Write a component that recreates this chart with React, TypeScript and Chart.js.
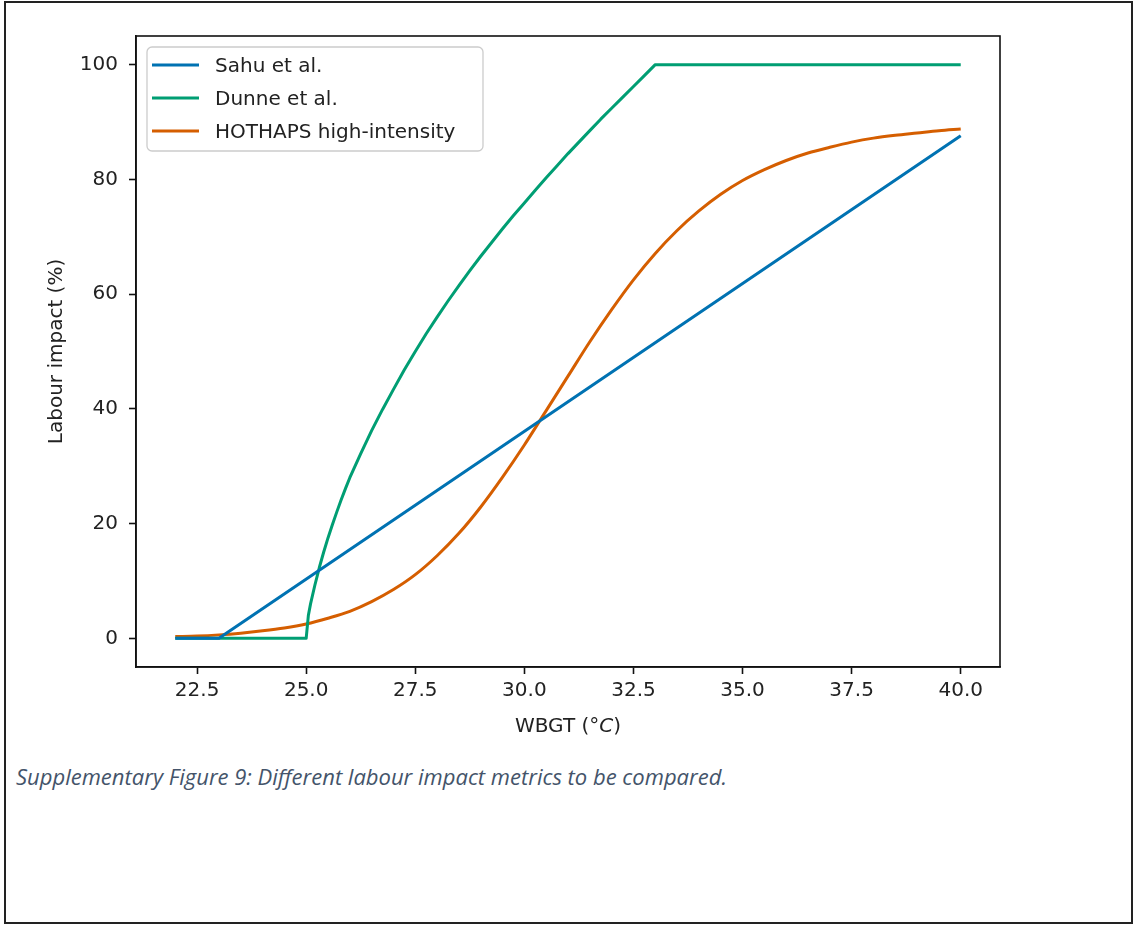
import React, { useEffect, useRef } from "react";
import { Chart, registerables } from "chart.js";

Chart.register(...registerables);

// ---------- data ----------
const sahuX = [22, 23, 40];
const sahuY = [0, 0, 87.6];

const dunneX = [22, 25, 25.05, 25.1, 25.2, 25.3, 25.4, 25.5, 25.6, 25.7, 25.8, 25.9, 26, 26.25, 26.5, 26.75, 27, 27.25, 27.5, 27.75, 28, 28.25, 28.5, 28.75, 29, 29.25, 29.5, 29.75, 30, 30.25, 30.5, 30.75, 31, 31.25, 31.5, 31.75, 32, 32.25, 32.5, 32.75, 33, 40];
const dunneY = [0, 0, 4, 6, 9.3, 12.3, 15, 17.5, 19.8, 22, 24.1, 26.1, 28, 32.2, 36.2, 39.9, 43.4, 46.8, 50, 53.1, 56, 58.8, 61.5, 64.1, 66.6, 69, 71.4, 73.7, 75.9, 78.1, 80.3, 82.4, 84.5, 86.5, 88.5, 90.5, 92.4, 94.3, 96.2, 98.1, 100, 100];

const hothapsX = [22, 22.5, 23, 23.5, 24, 24.5, 25, 25.5, 26, 26.5, 27, 27.5, 28, 28.5, 29, 29.5, 30, 30.5, 31, 31.5, 32, 32.5, 33, 33.5, 34, 34.5, 35, 35.5, 36, 36.5, 37, 37.5, 38, 38.5, 39, 39.5, 40];
const hothapsY = [0.3, 0.4, 0.6, 0.9, 1.3, 1.8, 2.5, 3.5, 4.7, 6.4, 8.5, 11.1, 14.4, 18.3, 22.9, 28.1, 33.7, 39.7, 45.7, 51.7, 57.3, 62.5, 67.1, 71.1, 74.5, 77.4, 79.8, 81.7, 83.3, 84.6, 85.6, 86.5, 87.2, 87.7, 88.1, 88.5, 88.8];

const xTicks = [22.5, 25, 27.5, 30, 32.5, 35, 37.5, 40];
const yTicks = [0, 20, 40, 60, 80, 100];

const seriesLabels = ["Sahu et al.", "Dunne et al.", "HOTHAPS high-intensity"];
const seriesColors = ["#0072B2", "#009E73", "#D55E00"];

const xTitleParts = ["WBGT (°", "C", ")"];
const yTitle = "Labour impact (%)";
const caption = "Supplementary Figure 9: Different labour impact metrics to be compared.";

const toPoints = (xs: number[], ys: number[]) => xs.map((x, i) => ({ x, y: ys[i] }));

const FONT = '"DejaVu Sans", sans-serif';
const TEXT = "#222";

const overlayPlugin = {
  id: "overlay",
  afterDraw(chart: any) {
    const { ctx, chartArea: a } = chart;
    ctx.save();
    // frame
    ctx.strokeStyle = "#111";
    ctx.lineWidth = 1.6;
    ctx.strokeRect(a.left, a.top, a.right - a.left, a.bottom - a.top);

    // x title with italic C
    ctx.fillStyle = TEXT;
    ctx.textBaseline = "alphabetic";
    ctx.textAlign = "left";
    const normal = `20px ${FONT}`;
    const ital = `italic 20px ${FONT}`;
    ctx.font = normal;
    const w0 = ctx.measureText(xTitleParts[0]).width;
    const w2 = ctx.measureText(xTitleParts[2]).width;
    ctx.font = ital;
    const w1 = ctx.measureText(xTitleParts[1]).width;
    const total = w0 + w1 + w2;
    let xx = (a.left + a.right) / 2 - total / 2;
    const ty = 732;
    ctx.font = normal;
    ctx.fillText(xTitleParts[0], xx, ty);
    xx += w0;
    ctx.font = ital;
    ctx.fillText(xTitleParts[1], xx, ty);
    xx += w1;
    ctx.font = normal;
    ctx.fillText(xTitleParts[2], xx, ty);

    // y title
    ctx.save();
    ctx.translate(62, (a.top + a.bottom) / 2);
    ctx.rotate(-Math.PI / 2);
    ctx.textAlign = "center";
    ctx.font = normal;
    ctx.fillText(yTitle, 0, 0);
    ctx.restore();

    // legend
    const lx = a.left + 11;
    const ly = a.top + 11;
    const lw = 336;
    const lh = 104;
    ctx.beginPath();
    ctx.roundRect(lx, ly, lw, lh, 5);
    ctx.fillStyle = "rgba(255,255,255,0.8)";
    ctx.fill();
    ctx.strokeStyle = "#cccccc";
    ctx.lineWidth = 1.3;
    ctx.stroke();
    chart.data.datasets.forEach((ds: any, i: number) => {
      const ry = ly + 18 + i * 33;
      ctx.beginPath();
      ctx.strokeStyle = ds.borderColor;
      ctx.lineWidth = 3;
      ctx.moveTo(lx + 5, ry);
      ctx.lineTo(lx + 52, ry);
      ctx.stroke();
      ctx.fillStyle = TEXT;
      ctx.font = normal;
      ctx.textAlign = "left";
      ctx.textBaseline = "alphabetic";
      ctx.fillText(ds.label, lx + 68, ry + 7);
    });
    ctx.restore();
  },
};

export default function App() {
  const canvasRef = useRef<HTMLCanvasElement | null>(null);

  useEffect(() => {
    if (!canvasRef.current) return;
    const chart = new Chart(canvasRef.current, {
      type: "line",
      data: {
        datasets: [
          { label: seriesLabels[0], data: toPoints(sahuX, sahuY), borderColor: seriesColors[0] },
          { label: seriesLabels[1], data: toPoints(dunneX, dunneY), borderColor: seriesColors[1] },
          {
            label: seriesLabels[2],
            data: toPoints(hothapsX, hothapsY),
            borderColor: seriesColors[2],
            cubicInterpolationMode: "monotone",
          },
        ].map((d: any) => ({ ...d, borderWidth: 3, pointRadius: 0, fill: false, borderJoinStyle: "round", tension: d.cubicInterpolationMode ? 0.4 : 0 })),
      },
      options: {
        responsive: false,
        animation: false,
        devicePixelRatio: 1,
        layout: { padding: { left: 0, top: 36, right: 133, bottom: 0 } },
        plugins: { legend: { display: false }, tooltip: { enabled: false }, title: { display: false } },
        scales: {
          x: {
            type: "linear",
            min: 21.1,
            max: 40.9,
            afterBuildTicks: (s: any) => {
              s.ticks = xTicks.map((v) => ({ value: v }));
            },
            afterFit: (s: any) => {
              s.height = 925 - 667;
            },
            ticks: {
              callback: (v: any) => Number(v).toFixed(1),
              font: { family: FONT, size: 20 },
              color: TEXT,
              padding: 5,
              maxRotation: 0,
              autoSkip: false,
            },
            grid: { display: true, drawOnChartArea: false, drawTicks: true, tickLength: 7, tickWidth: 1.6, tickColor: "#111" },
            border: { display: true, color: "#111", width: 1.6 },
          },
          y: {
            type: "linear",
            min: -5,
            max: 105,
            afterBuildTicks: (s: any) => {
              s.ticks = yTicks.map((v) => ({ value: v }));
            },
            afterFit: (s: any) => {
              s.width = 136;
            },
            ticks: {
              callback: (v: any) => String(Math.round(Number(v))),
              font: { family: FONT, size: 20 },
              color: TEXT,
              padding: 11,
              autoSkip: false,
            },
            grid: { display: true, drawOnChartArea: false, drawTicks: true, tickLength: 7, tickWidth: 1.6, tickColor: "#111" },
            border: { display: true, color: "#111", width: 1.6 },
          },
        },
      },
      plugins: [overlayPlugin],
    } as any);
    return () => chart.destroy();
  }, []);

  return (
    <div style={{ position: "absolute", left: 0, top: 0, width: 1133, height: 925, background: "#fff" }}>
      <div
        style={{
          position: "absolute",
          left: 4,
          top: 1,
          width: 1129,
          height: 923,
          boxSizing: "border-box",
          border: "2px solid #222",
        }}
      />
      <div
        style={{
          position: "absolute",
          left: 16,
          top: 761,
          fontFamily: '"Open Sans", sans-serif',
          fontStyle: "italic",
          fontSize: 22,
          lineHeight: "30px",
          color: "#44546A",
          whiteSpace: "nowrap",
        }}
      >
        {caption}
      </div>
      <canvas ref={canvasRef} width={1133} height={925} style={{ position: "absolute", left: 0, top: 0 }} />
    </div>
  );
}
